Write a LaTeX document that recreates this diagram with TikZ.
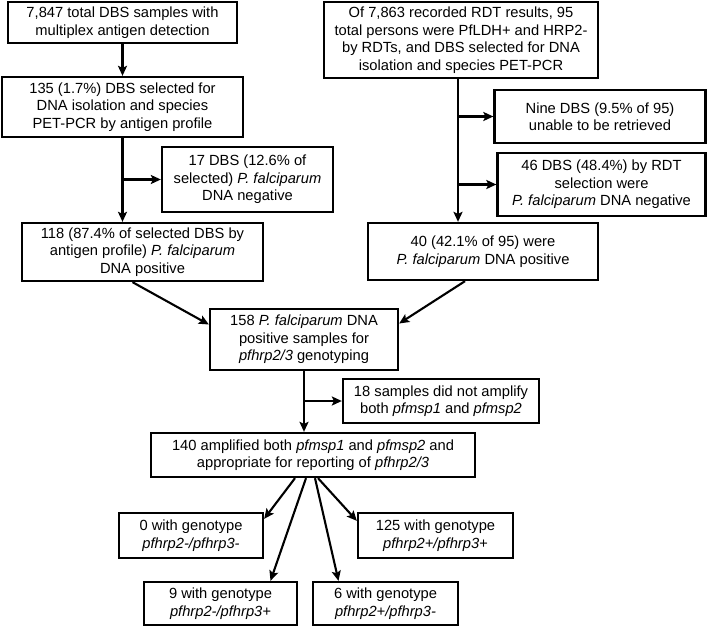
\documentclass[tikz,border=0pt]{standalone}
\usepackage{fontspec}
\setmainfont{Liberation Sans}
\usetikzlibrary{arrows.meta}
\begin{document}
\begin{tikzpicture}[x=1pt, y=-1pt, font=\fontsize{14.7}{17.5}\selectfont, >={Stealth[length=10pt, width=9pt, inset=2pt]}]
        \tikzset{Box/.style={shape=rectangle, draw, line width=2.3pt, align=center, inner sep=2pt}}
        \tikzset{Link/.style={->, line width=2.1pt}}
        \useasboundingbox (0,0) rectangle (708,627);

        % nodes
        \node[Box, minimum width=229, minimum height=41] (total) at (122.5, 22.5) {7,847 total DBS samples with\\ multiplex antigen detection};
        \node[Box, minimum width=241, minimum height=60] (sel) at (122.5, 107) {135 (1.7\%) DBS selected for\\ DNA isolation and species\\ PET-PCR by antigen profile};
        \node[Box, minimum width=171, minimum height=65] (neg1) at (247.5, 179.5) {17 DBS (12.6\% of\\ selected) \textit{P. falciparum}\\ DNA negative};
        \node[Box, minimum width=241, minimum height=58] (pos1) at (142.5, 252) {118 (87.4\% of selected DBS by\\ antigen profile) \textit{P. falciparum}\\ DNA positive};

        \node[Box, minimum width=274, minimum height=76] (rdt) at (461, 40) {Of 7,863 recorded RDT results, 95\\ total persons were PfLDH+ and HRP2-\\ by RDTs, and DBS selected for DNA\\ isolation and species PET-PCR};
        \node[Box, minimum width=211, minimum height=53] (miss) at (600, 116.5) {Nine DBS (9.5\% of 95)\\ unable to be retrieved};
        \node[Box, minimum width=208, minimum height=63] (neg2) at (601.5, 184.5) {46 DBS (48.4\%) by RDT\\ selection were\\ \textit{P. falciparum} DNA negative};
        \node[Box, minimum width=230, minimum height=57] (pos2) at (483, 251.5) {40 (42.1\% of 95) were\\ \textit{P. falciparum} DNA positive};

        \node[Box, minimum width=188, minimum height=61] (geno) at (304, 339.5) {158 \textit{P. falciparum} DNA\\ positive samples for\\ \textit{pfhrp2/3} genotyping};
        \node[Box, minimum width=196, minimum height=44] (noamp) at (441, 401) {18 samples did not amplify\\ both \textit{pfmsp1} and \textit{pfmsp2}};
        \node[Box, minimum width=324, minimum height=44] (amp) at (313, 455) {140 amplified both \textit{pfmsp1} and \textit{pfmsp2} and\\ appropriate for reporting of \textit{pfhrp2/3}};

        \node[Box, minimum width=144, minimum height=45] (mm) at (191, 535.5) {0 with genotype\\ \textit{pfhrp2-/pfhrp3-}};
        \node[Box, minimum width=155, minimum height=45] (pp) at (435.5, 535.5) {125 with genotype\\ \textit{pfhrp2+/pfhrp3+}};
        \node[Box, minimum width=153, minimum height=43] (mp) at (220.5, 603.5) {9 with genotype\\ \textit{pfhrp2-/pfhrp3+}};
        \node[Box, minimum width=145, minimum height=43] (pm) at (385.5, 603.5) {6 with genotype\\ \textit{pfhrp2+/pfhrp3-}};

        % arrows
        \draw[Link] (total) -- (sel);
        \draw[Link] (sel.south) -- (sel.south |- pos1.north);
        \draw[Link] (sel.south |- neg1.west) -- (neg1.west);

        \draw[Link] ([xshift=-3pt]rdt.south) -- ([xshift=-3pt]rdt.south |- pos2.north);
        \draw[Link] ([xshift=-3pt]rdt.south |- miss.west) -- (miss.west);
        \draw[Link] ([xshift=-3pt]rdt.south |- neg2.west) -- (neg2.west);

        \draw[Link] ([xshift=-10pt]pos1.south) -- ([yshift=15pt]geno.west);
        \draw[Link] ([xshift=-18pt]pos2.south) -- ([yshift=16pt]geno.east);

        \draw[Link] (geno.south) -- (geno.south |- amp.north);
        \draw[Link] (geno.south |- noamp.west) -- (noamp.west);

        \draw[Link] ([xshift=-18pt]amp.south) -- ([yshift=-7pt]mm.north east);
        \draw[Link] ([xshift=-7pt]amp.south) -- ([xshift=50pt]mp.north);
        \draw[Link] ([xshift=2pt]amp.south) -- ([xshift=-47pt]pm.north);
        \draw[Link] ([xshift=5pt]amp.south) -- ([yshift=-9pt]pp.north west);
\end{tikzpicture}
\end{document}
